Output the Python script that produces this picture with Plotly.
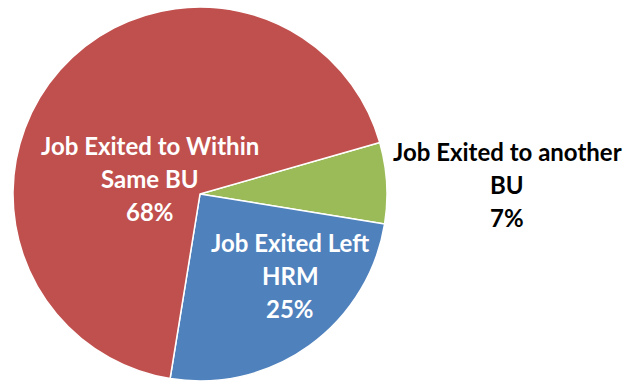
import plotly.graph_objects as go

labels = ["Job Exited to another BU", "Job Exited Left HRM", "Job Exited to Within Same BU"]
label_lines = [["Job Exited to another", "BU"], ["Job Exited Left", "HRM"], ["Job Exited to Within", "Same BU"]]
values = [7, 25, 68]
colors = ["#9BBB59", "#4F81BD", "#C0504D"]

W, H = 628, 384
# label centre x and first-line y (pixels), text colour
label_pos = [(507, 151, "black"), (290, 242, "white"), (150, 145, "white")]
line_gap = 33

fig = go.Figure(go.Pie(
    labels=labels, values=values, sort=False, direction="clockwise", rotation=74,
    marker=dict(colors=colors, line=dict(color="white", width=1.5)),
    textinfo="none", hoverinfo="label+percent", showlegend=False,
    domain=dict(x=[13 / W, 387 / W], y=[3 / H, 377 / H]),
))

total = sum(values)
ann = []
for lines, v, (cx, cy, col) in zip(label_lines, values, label_pos):
    texts = lines + [f"{round(100 * v / total)}%"]
    for i, t in enumerate(texts):
        ann.append(dict(text=t, x=cx / W, y=1 - (cy + i * line_gap) / H, xref="paper", yref="paper",
                        showarrow=False, xanchor="center", yanchor="middle",
                        font=dict(family="Lato", size=24, color=col, weight="bold")))

fig.update_layout(width=W, height=H, margin=dict(l=0, r=0, t=0, b=0),
                  paper_bgcolor="white", plot_bgcolor="white", annotations=ann)
fig.write_html("out.html")
